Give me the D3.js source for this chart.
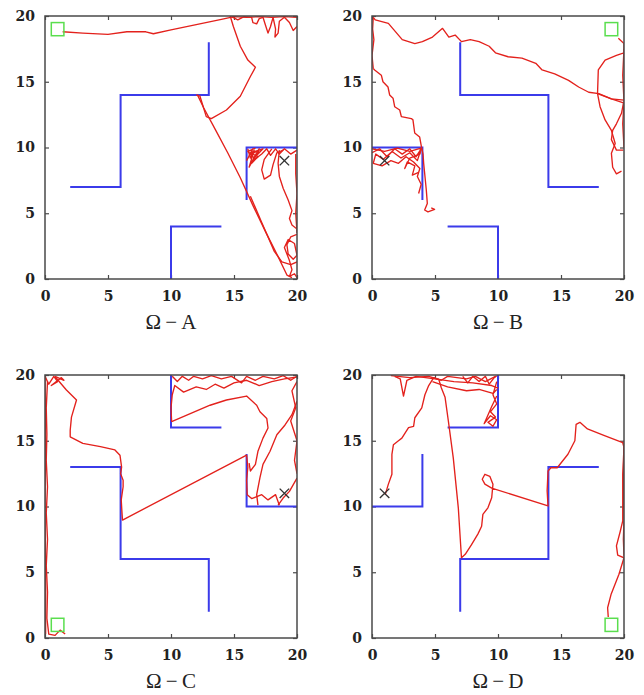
<!DOCTYPE html>
<html lang="en">
<meta charset="utf-8">
<style>
body { margin: 0; background: #fff; }
.track { fill: none; stroke: #e3211c; stroke-width: 1.35; stroke-linejoin: round; }
.wall { fill: none; stroke: #3b3bea; stroke-width: 2; }
.frame { fill: none; stroke: #4a4a4a; stroke-width: 1.5; }
.tick line { stroke: #4a4a4a; stroke-width: 1.2; }
.tick text { font-family: "DejaVu Serif", serif; font-weight: bold; font-size: 14px; fill: #222; }
.title { font-family: "Liberation Serif", serif; font-size: 21px; fill: #222; }
</style>
<body>
<svg width="644" height="695"></svg>
<script src="https://d3js.org/d3.v7.min.js"></script>
<script>

var svg = d3.select("svg");

var W = 252, H = 263;
var tickValues = [0, 5, 10, 15, 20];
var titles = ["\u03A9\u2009\u2212\u2009A", "\u03A9\u2009\u2212\u2009B", "\u03A9\u2009\u2212\u2009C", "\u03A9\u2009\u2212\u2009D"];
var origins = [[45, 16], [372, 16], [45, 375], [372, 375]];

// start (x) and goal (square) for each maze
var starts = [[19, 9], [1, 9], [19, 11], [1, 11]];
var goals = [[1, 19], [19, 19], [1, 1], [19, 1]];

// wall polylines
var wallsA = [
  [[13, 18], [13, 14], [6, 14], [6, 7], [2, 7]],
  [[10, 0], [10, 4], [14, 4]],
  [[16, 6], [16, 10], [20, 10]]
];
var wallsB = [
  [[7, 18], [7, 14], [14, 14], [14, 7], [18, 7]],
  [[6, 4], [10, 4], [10, 0]],
  [[0, 10], [4, 10], [4, 6]]
];
var wallsC = [
  [[10, 20], [10, 16], [14, 16]],
  [[2, 13], [6, 13], [6, 6], [13, 6], [13, 2]],
  [[16, 14], [16, 10], [20, 10]]
];
var wallsD = [
  [[6, 16], [10, 16], [10, 20]],
  [[0, 10], [4, 10], [4, 14]],
  [[7, 2], [7, 6], [14, 6], [14, 13], [18, 13]]
];

// trajectories
var tracksA = [
  [[1.4,18.8],[3,18.7],[5,18.6],[6.5,18.8],[8,18.8],[8.6,18.65],[10,18.95],[12,19.35],[14,19.75],[15,19.95],[16,19.9],[17,19.95],[18,19.9],[19,19.95],[20,19.9]],
  [[14.8,19.95],[15.3,19.7],[15.8,19.95],[16.4,19.9],[16.5,19.5],[16.8,19.4],[17.0,19.8],[17.3,19.9],[17.5,19.3],[17.7,18.7],[17.9,19.2],[18.1,19.9],[18.3,19.0],[18.25,18.4],[18.5,18.7],[18.6,19.6],[19.0,19.9],[19.4,19.5],[19.7,18.9],[20,19.2]],
  [[14.7,20],[14.95,19.2],[15.5,17.7],[16.1,16.65],[16.7,16.1],[16.3,15.4],[15.5,13.9],[14.4,12.85],[13.2,12.2],[12.8,12.35],[12.3,13.9],[12.0,14.0]],
  [[12.1,14.0],[12.6,13.0],[13.5,11.4],[14.5,9.6],[15.5,7.7],[16.5,5.6],[17.5,3.6],[18.5,1.7],[19.2,0.3],[19.6,0.1]],
  [[16.3,6.3],[17.2,4.3],[18.2,2.1],[18.8,1.3],[19.5,1.1],[20,1.3]],
  [[16.1,9.9],[16.3,9.2],[16.6,9.8],[16.2,8.5],[16.8,9.6],[17.0,9.9],[16.5,9.0],[17.2,9.5],[17.6,9.9],[17.9,9.4],[18.3,9.9],[18.6,9.5],[19.0,9.9],[19.5,9.5],[20,9.8]],
  [[16.0,9.0],[16.5,9.9],[16.2,9.4],[17.0,9.8],[16.4,8.8],[16.9,9.3],[16.3,9.6],[17.3,9.9],[16.6,9.2],[16.1,9.7],[16.7,9.95]],
  [[18.0,9.9],[17.4,9.1],[17.2,8.3],[17.4,7.6],[17.9,7.9],[18.1,8.7],[18.4,9.6],[18.9,9.8]],
  [[18.6,9.8],[18.5,8.8],[18.6,7.8],[18.9,6.9],[19.3,6.0],[19.6,5.2],[19.4,4.6],[19.6,4.1],[20,3.8]],
  [[20,3.4],[19.5,3.2],[19.2,2.6],[19.3,1.9],[19.7,1.5],[20,1.8],[19.8,2.7],[19.3,3.0],[19.0,2.4],[19.4,1.4],[19.6,0.7],[19.4,0.2],[19.8,0.4],[20,0.1]],
  [[19.9,9.5],[19.9,8.0],[20,6.5],[19.9,5.0],[20,3.5]]
];
var tracksB = [
  [[0.1,19.9],[0.26,19.7],[1.3,19.44],[2.4,18.2],[3.4,17.9],[4.0,18.05],[4.8,18.4],[5.6,19.06],[6.1,18.4],[6.6,18.55],[7.1,18.05],[7.8,18.2],[8.5,18.05],[9.3,17.7],[9.8,17.2],[10.8,16.9],[11.9,16.8],[13.0,16.4],[13.5,15.9],[14.5,15.6],[15.6,15.1],[16.4,14.6],[17.2,14.2],[18.0,14.1],[19.0,13.7],[20,13.6]],
  [[0.1,19.9],[0.05,19.0],[0.15,18.2],[0.0,17.0],[0.1,16.0]],
  [[0.1,16.0],[0.21,15.9],[0.74,15.5],[0.87,15.0],[1.27,14.6],[1.4,14.0],[1.67,13.75],[1.8,13.1],[2.2,12.85],[2.33,12.35],[3.12,12.2],[3.25,12.1],[3.39,11.1],[3.78,10.8],[3.92,10.07],[4.05,9.5],[4.1,8.8],[4.31,6.77],[4.39,5.75],[4.18,5.25],[4.44,5.1],[4.97,5.3],[4.7,5.4]],
  [[0,9.6],[0.6,9.9],[1.2,9.3],[1.8,9.9],[2.4,9.5],[3.0,9.9],[3.5,9.3],[3.9,9.9],[3.6,9.0],[3.0,9.6],[2.3,9.2],[1.6,9.7],[0.9,9.1],[0.3,9.5],[0.1,8.8],[0.8,8.6],[1.5,9.0],[2.1,8.8],[2.7,9.3],[3.3,8.9],[3.8,8.4],[3.6,7.8],[3.9,7.2],[3.7,6.5]],
  [[0,9.9],[1,9.7],[2,9.95],[3,9.7],[3.9,9.95],[3.8,9.5],[3.0,9.2],[2.6,8.4],[2.8,8.9],[3.4,8.6],[3.2,7.9],[3.7,8.1]],
  [[19.55,18.3],[20,17.9],[20,17.2],[19.4,17.0],[18.5,16.65],[17.96,15.9],[17.9,14.1],[18.1,13.1],[18.5,12.1],[19.0,11.3],[19.3,10.3],[19.0,9.56],[19.1,8.5],[19.4,8.0],[19.8,8.2]],
  [[17.9,14.1],[19.0,13.7],[19.96,13.4],[19.8,12.6],[19.4,11.8],[19.1,11.3],[19.0,10.6],[19.4,9.8],[19.96,9.8]],
  [[20,17.5],[19.9,15.5],[20,13.5],[19.9,11.8],[20,10.0]]
];
var tracksC = [
  [[1.6,0.3],[1.2,0.6],[0.8,0.2],[0.3,0.3],[0.15,1.5],[0.2,3.5],[0.1,5.5],[0.2,7.5],[0.1,9.5],[0.2,11.5],[0.1,13.5],[0.15,15.5],[0.1,17.5],[0.2,19.5]],
  [[0.05,0.3],[0.05,5],[0.0,10],[0.05,15],[0.0,19.9]],
  [[0,19.9],[0.3,19.3],[0.7,19.9],[1.0,19.5],[0.5,19.2],[1.3,19.8],[1.5,19.6],[0.8,19.9]],
  [[0.8,19.87],[1.7,18.86],[2.5,18.1],[2.1,16.8],[2.0,15.8],[2.0,15.3],[3.0,14.8],[4.4,14.55],[5.55,14.3],[5.95,13.9],[6.08,13.0],[6.0,12.5],[6.2,12.0],[6.2,11.5],[6.05,10.5],[6.1,9.7],[6.15,8.97],[16.0,13.9],[16.1,13.0],[16.0,12.0],[16.05,10.9],[16.4,10.6],[17.2,10.9],[17.7,10.5],[18.3,10.9],[18.6,10.1]],
  [[10.05,16.45],[13.1,17.7],[14.4,18.1],[16.0,18.4],[16.8,17.7],[17.06,17.2],[17.6,16.7],[17.7,15.97],[17.3,15.2],[16.9,14.2],[16.7,13.2],[16.3,12.7],[16.2,13.3]],
  [[10.05,16.45],[10.0,17.5],[10.1,18.5],[10.3,19.2],[11.0,18.7],[12.0,19.1],[12.8,18.9],[13.5,19.3],[14.2,19.0],[15.0,19.4],[16.0,19.6],[17.0,19.2],[18.0,19.5],[19.0,19.7],[20,19.85]],
  [[10.1,19.9],[10.5,19.5],[10.9,19.9],[11.4,19.6],[11.8,19.9],[12.5,19.7],[13.2,19.95],[14,19.7],[14.8,19.9],[15.6,19.4],[16.0,19.9],[16.7,19.6],[17.3,19.9],[18.2,19.7],[18.9,19.95],[19.5,19.6],[20,19.9]],
  [[20,18.0],[19.6,16.98],[19.05,16.2],[18.4,15.46],[17.86,14.2],[17.3,13.2],[17.06,12.2],[16.8,10.9],[16.9,10.1]],
  [[20,12.16],[19.4,11.15],[18.9,10.64],[18.5,10.1]],
  [[20,19.5],[19.6,18.8],[19.9,17.5],[19.5,16.5],[20,15.0],[19.8,13.5],[20,12.5]]
];
var tracksD = [
  [[1.05,10.9],[1.3,11.7],[1.58,12.45],[1.58,13.97],[1.7,14.7],[2.1,15.0],[2.37,15.2],[2.9,16.0],[3.3,16.1],[3.4,16.75],[3.95,17.5],[4.2,18.5],[4.5,19.2],[4.9,19.8],[5.3,19.67],[5.5,19.03],[5.8,18.3],[6.06,16.5],[6.45,13.7],[6.85,9.9],[7.1,6.1],[7.4,6.36],[7.9,7.1],[8.4,7.9],[8.7,8.5],[8.8,9.4],[9.2,9.9],[9.5,10.67],[9.6,11.7],[9.35,12.3],[8.96,12.45],[8.75,12.07],[8.96,11.7],[9.5,11.4],[13.97,10.04],[13.9,11.2],[13.97,12.7],[14.2,12.95],[14.7,12.95],[15.55,13.97],[16.1,15.0],[16.2,16.25],[16.5,16.4],[17.1,15.9],[18.4,15.4],[19.9,14.85],[20,14.5],[19.9,12.45],[19.9,8.9],[19.7,8.1],[19.4,7.0],[19.5,6.3],[20,6.1],[19.6,4.85],[18.97,3.3],[18.7,2.3],[18.75,1.6]],
  [[1.8,19.9],[2.24,19.7],[2.5,18.4],[2.77,19.6],[3.5,19.9],[5,19.7],[6.5,19.5],[8,19.4],[9.5,19.2],[10,19.0]],
  [[1.5,19.95],[3,19.8],[4.5,19.9],[5.5,19.6],[6,19.9],[7.5,19.7],[8.2,19.9],[9,19.5],[9.8,19.9]],
  [[4.8,19.5],[6,19.1],[7.5,18.8],[8.5,18.9],[9.6,18.6],[9.9,18.9]],
  [[9.9,19.5],[9.6,18.5],[9.9,17.8],[9.4,17.2],[9.8,16.8],[9.2,16.4],[9.6,16.1],[9.9,16.6],[9.4,16.9],[8.9,16.3],[9.5,17.6],[9.9,18.4]],
  [[7.2,19.9],[7.6,19.4],[8.0,19.9],[8.5,19.5],[9.0,19.9],[9.3,19.3],[9.7,19.8],[9.9,19.95]],
  [[20,15.0],[19.95,12.0],[20,9.0],[19.95,7.5],[20,6.2]]
];

var walls = [wallsA, wallsB, wallsC, wallsD];
var tracks = [tracksA, tracksB, tracksC, tracksD];

var x = d3.scaleLinear().domain([0, 20]).range([0, W]);
var y = d3.scaleLinear().domain([0, 20]).range([H, 0]);

var line = d3.line()
    .x(function(d) { return x(d[0]); })
    .y(function(d) { return y(d[1]); });

svg.append("defs").append("clipPath")
    .attr("id", "clip")
  .append("rect")
    .attr("width", W)
    .attr("height", H);

titles.forEach(function(title, i) {
  var g = svg.append("g")
      .attr("transform", "translate(" + origins[i][0] + "," + origins[i][1] + ")");

  // axes with inward ticks, mirrored on top/right
  g.append("g")
      .attr("transform", "translate(0," + H + ")")
      .call(d3.axisBottom(x).tickValues(tickValues).tickSizeInner(-4).tickSizeOuter(0).tickPadding(12))
    .call(function(a) { a.select(".domain").remove(); });
  g.append("g")
      .call(d3.axisLeft(y).tickValues(tickValues).tickSizeInner(-4).tickSizeOuter(0).tickPadding(10))
    .call(function(a) { a.select(".domain").remove(); });
  g.append("g")
      .call(d3.axisTop(x).tickValues(tickValues).tickSizeInner(-4).tickSizeOuter(0).tickFormat(""))
    .call(function(a) { a.select(".domain").remove(); });
  g.append("g")
      .attr("transform", "translate(" + W + ",0)")
      .call(d3.axisRight(y).tickValues(tickValues).tickSizeInner(-4).tickSizeOuter(0).tickFormat(""))
    .call(function(a) { a.select(".domain").remove(); });
  g.selectAll(".tick text").attr("font-family", null).attr("font-size", null);

  var plot = g.append("g").attr("clip-path", "url(#clip)");

  plot.selectAll(".wall")
    .data(walls[i])
    .enter().append("path")
      .attr("class", "wall")
      .attr("d", line);

  plot.selectAll(".track")
    .data(tracks[i])
    .enter().append("path")
      .attr("class", "track")
      .attr("d", line);

  // goal square
  plot.append("rect")
      .attr("x", x(goals[i][0] - 0.5))
      .attr("y", y(goals[i][1] + 0.5))
      .attr("width", x(1) - x(0))
      .attr("height", y(0) - y(1))
      .attr("fill", "none")
      .attr("stroke", "#5ade4e")
      .attr("stroke-width", 1.5);

  // start cross
  plot.append("path")
      .attr("transform", "translate(" + x(starts[i][0]) + "," + y(starts[i][1]) + ")")
      .attr("d", d3.symbol(d3.symbolX, 60)())
      .attr("fill", "none")
      .attr("stroke", "#333")
      .attr("stroke-width", 1.4);

  g.append("rect")
      .attr("class", "frame")
      .attr("width", W)
      .attr("height", H);

  g.append("text")
      .attr("class", "title")
      .attr("x", W / 2)
      .attr("y", H + 50)
      .attr("text-anchor", "middle")
      .text(title);
});

</script>
</body>
</html>
